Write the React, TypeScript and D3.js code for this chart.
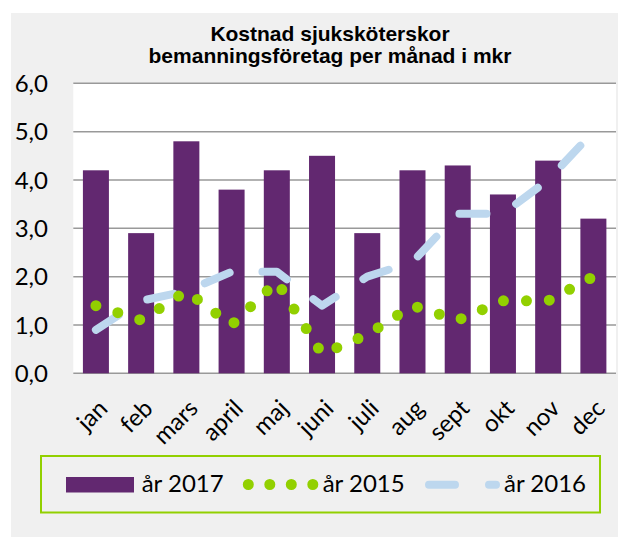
import React from 'react';
import * as d3 from 'd3';

// chart data
const months = ['jan', 'feb', 'mars', 'april', 'maj', 'juni', 'juli', 'aug', 'sept', 'okt', 'nov', 'dec'];
const cost2017 = [4.2, 2.9, 4.8, 3.8, 4.2, 4.5, 2.9, 4.2, 4.3, 3.7, 4.4, 3.2];
const cost2015 = [1.4, 1.1, 1.7, 1.0, 1.9, 0.4, 0.8, 1.4, 1.1, 1.5, 1.5, 2.0];
const cost2016 = [0.9, 1.5, 1.7, 2.1, 2.1, 1.4, 2.0, 2.3, 3.3, 3.3, 4.0, 5.0];
const yTicks = [0, 1, 2, 3, 4, 5, 6];
const yTickLabels = ['0,0', '1,0', '2,0', '3,0', '4,0', '5,0', '6,0'];
const titleLines = ['Kostnad sjuksköterskor', 'bemanningsföretag per månad i mkr'];
const seriesNames = ['år 2017', 'år 2015', 'år 2016'];

const W = 619;
const H = 537;
const plot = {left: 73.3, right: 616, top: 83.3, bottom: 373.3};

const PURPLE = '#622870';
const GREEN = '#92d000';
const BLUE = '#bdd7ee';
const GRID = '#999999';
const FONT = 'Lato, "Open Sans", sans-serif';

const App = () => {
    const x = d3.scaleBand<string>()
        .domain(months)
        .range([plot.left, plot.right])
        .paddingInner(0.425)
        .paddingOuter(0.2125);
    const y = d3.scaleLinear()
        .domain([0, 6])
        .range([plot.bottom, plot.top]);
    const cx = (m: string) => (x(m) as number) + x.bandwidth() / 2;

    const line = d3.line<number>()
        .x((_, i) => cx(months[i]))
        .y(d => y(d));

    return (
        <svg width={W} height={H} style={{position: 'absolute', left: 0, top: 0}}>
            <rect x={0} y={0} width={W} height={H} fill="#ffffff" />
            <rect x={11} y={13} width={607} height={H - 13} fill="#f0f0f0" />
            <rect x={plot.left} y={plot.top} width={plot.right - plot.left} height={plot.bottom - plot.top} fill="#ffffff" />

            {/* title */}
            {titleLines.map((t, i) => (
                <text key={t} x={330} y={41 + i * 22.3} textAnchor="middle"
                      fontFamily='"Liberation Sans", Arial, sans-serif' fontWeight="bold" fontSize={21} fill="#000">
                    {t}
                </text>
            ))}

            {/* gridlines + y labels */}
            {yTicks.map((t, i) => (
                <g key={t}>
                    <line x1={plot.left} x2={plot.right} y1={y(t)} y2={y(t)} stroke={GRID} strokeWidth={1.5} />
                    <text x={48} y={y(t)} dy="0.36em" textAnchor="end" fontFamily={FONT} fontSize={24} fill="#000">
                        {yTickLabels[i]}
                    </text>
                </g>
            ))}

            {/* bars år 2017 */}
            {cost2017.map((v, i) => (
                <rect key={months[i]} x={x(months[i])} y={y(v)} width={x.bandwidth()} height={y(0) - y(v)} fill={PURPLE} />
            ))}

            {/* år 2016 dashed */}
            <path d={line(cost2016) as string} fill="none" stroke={BLUE} strokeWidth={8}
                  strokeLinecap="round" strokeLinejoin="round" strokeDasharray="27 33" />

            {/* år 2015 round dots */}
            <path d={line(cost2015) as string} fill="none" stroke={GREEN} strokeWidth={11}
                  strokeLinecap="round" strokeDasharray="0 23" />

            {/* x labels */}
            {months.map(m => (
                <text key={m} transform={`translate(${cx(m) + 13},410) rotate(-45)`} textAnchor="end"
                      fontFamily={FONT} fontSize={24} fill="#000">
                    {m}
                </text>
            ))}

            {/* legend */}
            <rect x={41} y={456} width={559} height={56.5} fill="none" stroke={GREEN} strokeWidth={2} />
            <rect x={66} y={477} width={68} height={15.5} fill={PURPLE} />
            <text x={141.7} y={492} fontFamily={FONT} fontSize={24} fill="#000">{seriesNames[0]}</text>
            <line x1={248.3} x2={313} y1={484.5} y2={484.5} stroke={GREEN} strokeWidth={11}
                  strokeLinecap="round" strokeDasharray="0 21.5" />
            <text x={322.7} y={492} fontFamily={FONT} fontSize={24} fill="#000">{seriesNames[1]}</text>
            <line x1={429} x2={496} y1={484.7} y2={484.7} stroke={BLUE} strokeWidth={8}
                  strokeLinecap="round" strokeDasharray="26 34" />
            <text x={504} y={492} fontFamily={FONT} fontSize={24} fill="#000">{seriesNames[2]}</text>
        </svg>
    );
};

export default App;
